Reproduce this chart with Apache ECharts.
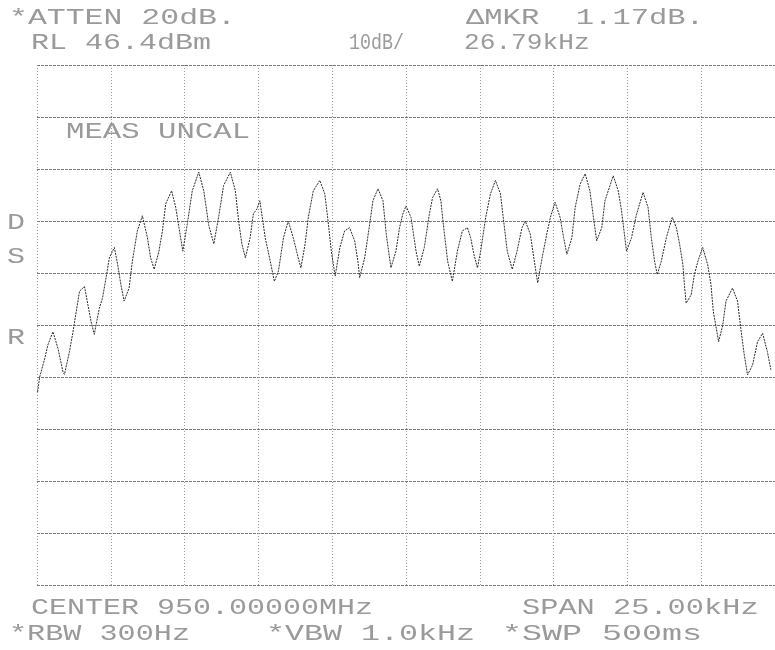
<!DOCTYPE html>
<html><head><meta charset="utf-8">
<script src="https://cdn.jsdelivr.net/npm/echarts@6/dist/echarts.min.js"></script>
<style>html,body{margin:0;padding:0;background:#fff}#c{width:775px;height:650px}</style>
</head><body><div id="c"></div>
<script>
// Frequency offset from centre (950.00000 MHz), kHz
const freqOffsetKHz = [
-12.48,-12.41,-12.24,-12.13,-11.96,-11.79,-11.62,-11.57,-11.40,-11.29,
-11.17,-11.06,-10.89,-10.78,-10.67,-10.56,-10.39,-10.28,-10.16,-10.05,
-9.88,-9.77,-9.66,-9.55,-9.38,-9.27,-9.10,-8.93,-8.76,-8.65,
-8.53,-8.37,-8.25,-8.14,-7.94,-7.80,-7.69,-7.56,-7.41,-7.24,
-7.02,-6.85,-6.68,-6.51,-6.34,-6.18,-5.95,-5.78,-5.67,-5.56,
-5.44,-5.28,-5.17,-5.05,-4.95,-4.77,-4.60,-4.46,-4.32,-4.15,
-3.99,-3.82,-3.65,-3.56,-3.42,-3.31,-3.14,-2.92,-2.75,-2.64,
-2.53,-2.40,-2.24,-2.08,-1.91,-1.74,-1.63,-1.57,-1.40,-1.23,
-1.12,-0.95,-0.78,-0.67,-0.51,-0.34,-0.22,-0.11,0.00,0.17,
0.34,0.45,0.62,0.79,0.90,1.07,1.18,1.29,1.41,1.57,
1.74,1.91,2.08,2.19,2.30,2.42,2.53,2.70,2.86,3.03,
3.20,3.32,3.43,3.60,3.76,3.93,4.04,4.21,4.33,4.46,
4.61,4.77,4.89,5.05,5.22,5.34,5.45,5.62,5.73,5.90,
6.07,6.23,6.35,6.46,6.63,6.74,7.02,7.19,7.30,7.47,
7.64,7.81,8.03,8.20,8.31,8.42,8.51,8.65,8.82,9.02,
9.16,9.27,9.38,9.43,9.49,9.66,9.77,9.89,10.05,10.22,
10.33,10.41,10.59,10.73,10.84,11.06,11.23,11.34,11.46,11.57,
11.74,11.91,12.08,12.24,12.36
];
// Trace level, dBm (RL 46.4 dBm, 10 dB/div)
const levelDBm = [
-16.5,-13.6,-10.1,-7.4,-4.9,-8.1,-12.6,-13.1,-8.7,-5.2,
-1.0,2.9,3.8,0.4,-2.9,-5.4,-0.4,1.6,5.5,9.3,
11.3,8.1,4.2,1.0,3.5,8.7,14.5,17.4,13.2,9.3,
7.1,10.6,14.5,19.7,22.2,19.0,15.1,10.6,15.8,22.2,
25.8,22.2,15.5,12.0,17.4,23.2,25.8,22.2,16.4,12.0,
9.3,13.2,17.8,18.7,20.3,13.2,8.7,4.8,6.8,13.2,
16.4,13.2,9.3,7.4,11.9,17.1,22.2,24.2,21.6,16.4,
10.6,5.8,11.3,14.5,15.1,12.6,8.7,5.5,9.3,15.8,
20.3,22.6,20.3,13.9,7.4,10.6,15.1,17.7,19.3,17.1,
10.6,7.7,11.3,17.7,20.9,22.6,20.3,14.5,8.7,4.8,
10.6,14.5,15.1,13.2,10.0,7.4,10.6,17.1,21.6,24.2,
21.6,15.8,10.6,7.1,10.6,15.1,16.4,13.9,9.3,4.5,
9.3,13.9,17.1,20.0,17.1,13.2,10.0,13.2,19.0,23.5,
25.5,22.2,17.1,12.6,15.1,20.3,25.1,22.2,18.4,10.6,
13.2,17.7,21.9,19.0,13.2,8.7,6.1,8.7,13.2,17.1,
15.1,11.9,8.0,4.2,0.6,2.2,6.1,8.7,11.3,8.0,
4.2,-1.0,-6.8,-3.6,1.0,3.5,1.0,-4.2,-9.4,-13.2,
-11.3,-6.8,-5.2,-8.7,-12.2
];
const refLevelDBm = 46.4;
const dbPerDiv = 10;
const spanKHz = 25;
const headerLeft = ['*ATTEN 20dB.', 'RL 46.4dBm'];
const headerMid = ['10dB/'];
const headerRight = ['\u0394MKR  1.17dB.', '26.79kHz'];
const footerLeft = ['CENTER 950.00000MHz', '*RBW 300Hz'];
const footerMid = ['*VBW 1.0kHz'];
const footerRight = ['SPAN 25.00kHz', '*SWP 500ms'];
const annotation = 'MEAS UNCAL';
const sideLetters = ['D', 'S', 'R'];

const chart = echarts.init(document.getElementById('c'), null, {renderer: 'canvas'});
const FONT = '22px "Liberation Mono"';
const ADV = 13.2;
const TXT = '#9a9a9a';
function t(text, x, y, pitch) {
  return {type: 'text', x: x, y: y, scaleX: pitch / ADV, scaleY: 1,
    style: {text: text, font: FONT, fill: TXT, align: 'left', verticalAlign: 'middle'}};
}
const graphics = [
  t(headerLeft[0], 9, 18, 18.9),
  t(headerLeft[1], 31, 43, 18.0),
  t(headerMid[0], 349, 43, 11.0),
  t(headerRight[0], 466, 18, 18.3),
  t(headerRight[1], 464, 43, 15.7),
  t(footerLeft[0], 31, 608, 18.0),
  t(footerLeft[1], 9, 634, 18.1),
  t(footerMid[0], 266, 634, 19.0),
  t(footerRight[0], 522, 608, 18.2),
  t(footerRight[1], 502, 634, 20.0),
  t(annotation, 66, 132, 18.4),
  t(sideLetters[0], 7, 223, 18),
  t(sideLetters[1], 7, 257, 18),
  t(sideLetters[2], 7, 338, 18)
];

const half = spanKHz / 2;
const option = {
  backgroundColor: '#ffffff',
  animation: false,
  grid: {left: 37, top: 65, width: 742, height: 520, containLabel: false},
  xAxis: {type: 'value', min: -half, max: half, interval: spanKHz / 10,
    axisLine: {show: false}, axisTick: {show: false}, axisLabel: {show: false},
    splitLine: {show: true, lineStyle: {color: '#999999', width: 1, type: [1, 2]}}},
  yAxis: [
    {type: 'value', min: refLevelDBm - 10 * dbPerDiv, max: refLevelDBm, show: false, splitLine: {show: false}},
    {type: 'value', min: 0, max: 10, interval: 1, position: 'left',
      axisLine: {show: false}, axisTick: {show: false}, axisLabel: {show: false},
      splitLine: {show: true, lineStyle: {color: '#777777', width: 1, type: [3, 1]}}}
  ],
  series: [{
    type: 'line', yAxisIndex: 0, showSymbol: false, smooth: false,
    data: freqOffsetKHz.map((f, i) => [f, levelDBm[i]]),
    lineStyle: {color: '#2a2a2a', width: 1, type: [2, 1]}
  }],
  graphic: graphics
};
chart.setOption(option);
</script>
</body></html>
